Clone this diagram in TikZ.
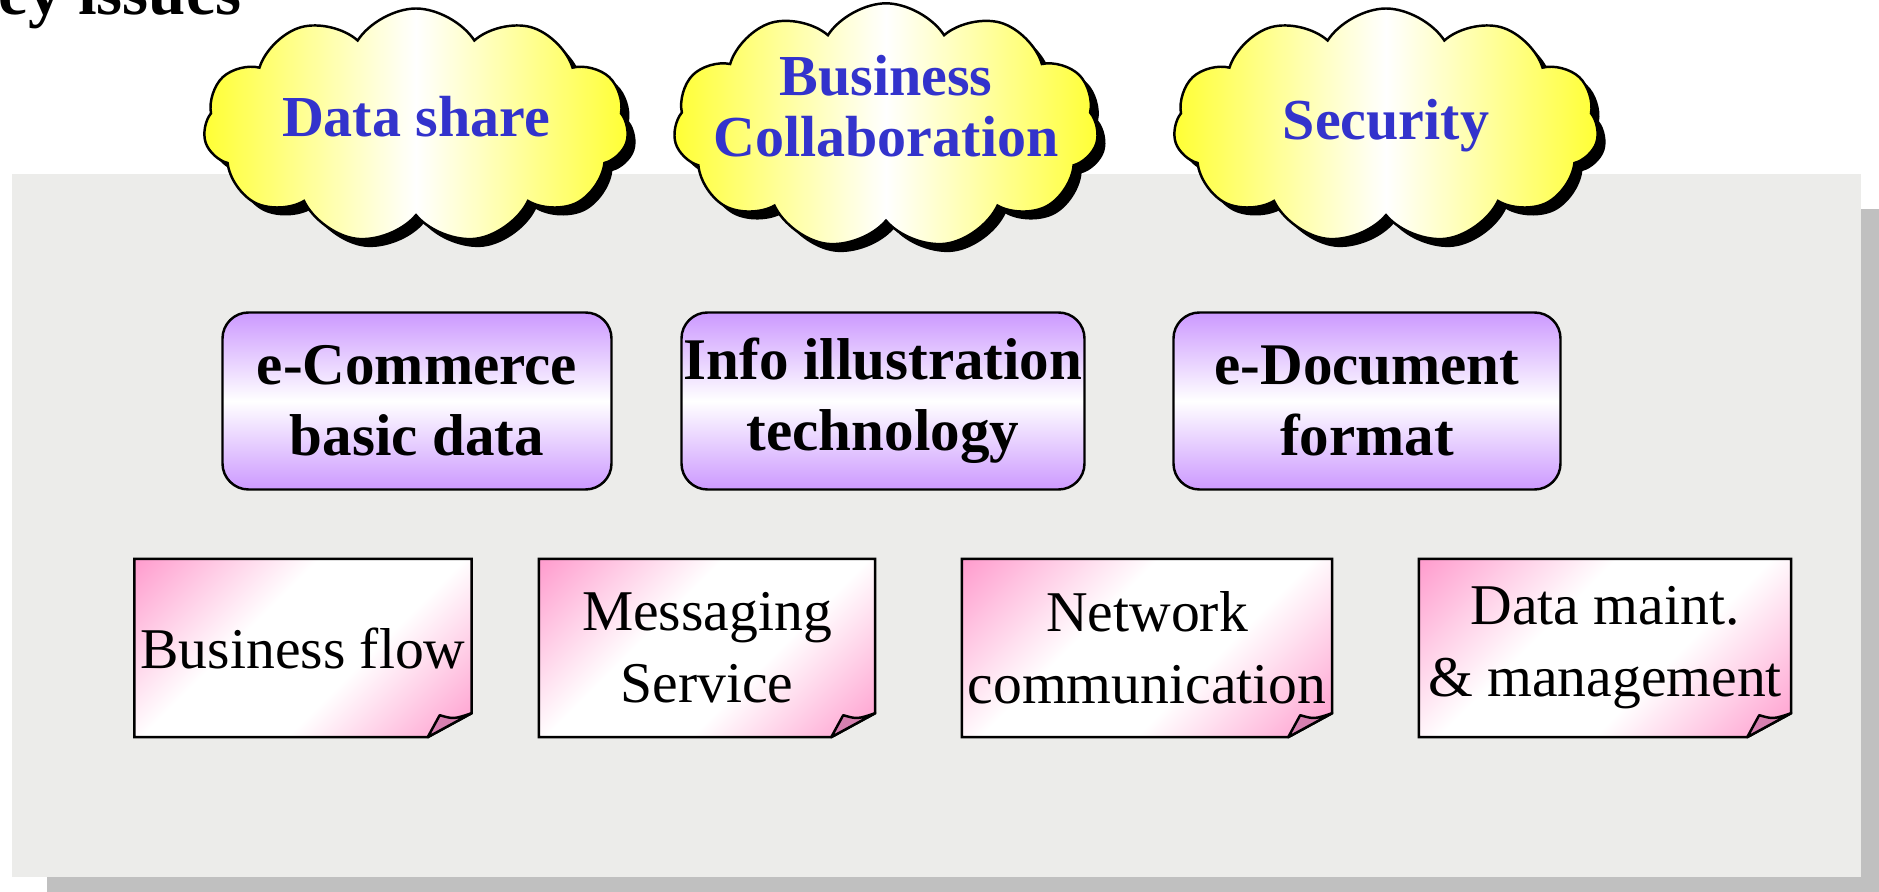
\documentclass[tikz,border=0pt]{standalone}
\usepackage{fontspec}
\setmainfont{Liberation Serif}
\usepackage{tikz}
\usetikzlibrary{shapes.symbols}
\usetikzlibrary{shadows}
\usetikzlibrary{backgrounds}

\definecolor{granite}{RGB}{236,236,234}
\definecolor{panelshadow}{RGB}{192,192,192}
\definecolor{cloudyellow}{RGB}{255,255,51}
\definecolor{cloudblue}{RGB}{51,51,204}
\definecolor{boxpurple}{RGB}{204,153,255}
\definecolor{notepink}{RGB}{255,153,204}
\definecolor{foldpink}{RGB}{214,128,176}

\pgfdeclarehorizontalshading{notefade}{100bp}{color(0bp)=(notepink); color(14bp)=(notepink); color(40bp)=(white); color(60bp)=(white); color(86bp)=(notepink); color(100bp)=(notepink)}

\tikzset{
	cloudnote/.style={cloud, cloud puffs=11, cloud puff arc=115, cloud ignores aspect,
		minimum width=42.5mm, minimum height=23.5mm, inner sep=0pt,
		draw=black, line width=0.7pt,
		left color=cloudyellow, right color=cloudyellow, middle color=white,
		drop shadow={fill=black, opacity=1, shadow xshift=0.8mm, shadow yshift=-0.8mm},
		font=\fontsize{16.5}{17.4}\selectfont\bfseries, text=cloudblue, align=center},
	techbox/.style={rounded corners=2.6mm, draw=black, line width=0.7pt,
		top color=boxpurple, bottom color=boxpurple, middle color=white,
		minimum height=17.7mm, inner sep=0pt,
		font=\fontsize{16.8}{20.2}\selectfont\bfseries, align=center},
	notebox/.style={minimum height=17.7mm, inner sep=0pt,
		font=\fontsize{16.4}{20.5}\selectfont, align=center},
	noteedge/.style={draw=black, line width=0.7pt, shading=notefade, shading angle=-45},
	notefold/.style={draw=black, line width=0.7pt, fill=foldpink, line join=round}
}

\begin{document}
\begin{tikzpicture}[x=0.1mm, y=-0.1mm]
	\useasboundingbox (0,0) rectangle (1879,892);
	\clip (0,0) rectangle (1879,892);

	% granite panel
	\begin{scope}[on background layer]
		\fill[panelshadow] (47,209) rectangle (1879,892);
		\fill[granite] (12,174) rectangle (1861,877);
	\end{scope}

	\node[font=\fontsize{19}{19}\selectfont\bfseries, anchor=base west, inner sep=0pt] (title) at (-2,15) {ey issues};

	% key issues
	\node[cloudnote, text depth=2mm] (share) at (416,126) {Data share};
	\node[cloudnote, inner xsep=-5mm, text depth=4mm] (collab) at (886,126) {Business\\Collaboration};
	\node[cloudnote] (security) at (1386,126) {Security};

	% technologies
	\node[techbox, minimum width=38.9mm] (basicdata) at (417,401) {e-Commerce\\basic data};
	\node[techbox, minimum width=40.3mm] (illustration) at (883,401) {Info illustration\\technology};
	\node[techbox, minimum width=38.7mm] (docformat) at (1367,401) {e-Document\\format};

	% services
	\node[notebox, minimum width=33.6mm] (flow) at (303,648) {Business flow};
	\node[notebox, minimum width=33.5mm] (messaging) at (707,648) {Messaging\\Service};
	\node[notebox, minimum width=36.9mm] (network) at (1147,648) {Network\\communication};
	\node[notebox, minimum width=37.1mm] (maint) at (1605,648) {Data maint.\\\& management};

	\begin{scope}[on background layer]
		\foreach \n in {flow,messaging,network,maint}{
			\draw[noteedge] (\n.north west) -- (\n.north east) -- ([shift={(0,-24)}]\n.south east)
				-- ([shift={(-44,0)}]\n.south east) -- (\n.south west) -- cycle;
			\draw[notefold] ([shift={(-44,0)}]\n.south east) -- ([shift={(-32,-22)}]\n.south east)
				.. controls ([shift={(-18,-18)}]\n.south east) .. ([shift={(0,-24)}]\n.south east) -- cycle;
		}
	\end{scope}
\end{tikzpicture}
\end{document}
